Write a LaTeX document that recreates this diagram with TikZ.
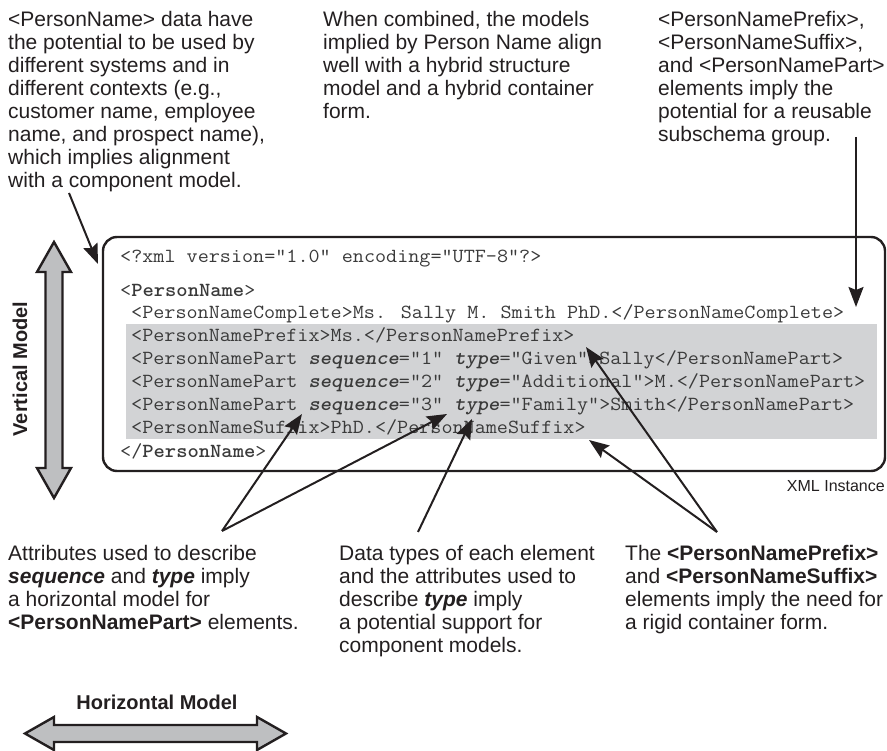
\documentclass[tikz,border=0pt]{standalone}
\usepackage{fontspec}
\setmainfont{Liberation Sans}
\usetikzlibrary{arrows.meta}

\definecolor{ink}{HTML}{231F20}
\definecolor{codeink}{HTML}{3A3A3A}
\definecolor{band}{HTML}{D2D3D5}
\definecolor{blockfill}{HTML}{BEBFC1}

% Multi-line notes are anchored at the baseline of their last line.
% Code lines are stretched slightly so one character is 11pt wide.
\tikzset{
  note/.style={anchor=base west, inner sep=0pt, align=left,
    font=\fontsize{21}{23}\selectfont, text=ink},
  code/.style={anchor=base west, inner sep=0pt, xscale=1.076,
    font=\ttfamily\fontsize{20}{23}\selectfont, text=codeink},
  pointer/.style={line width=2pt, draw=ink,
    -{Stealth[length=20pt,width=15pt,inset=3pt]}},
  blockarrow/.style={draw=ink, line width=2.4pt, fill=blockfill, line join=miter},
  modellabel/.style={inner sep=0pt, font=\bfseries\fontsize{20}{24}\selectfont, text=ink},
}
\newcommand{\attr}[1]{\textbf{\textit{#1}}}

\begin{document}
\begin{tikzpicture}[x=1pt, y=-1pt]
\useasboundingbox (0,0) rectangle (887,751);

% --- explanatory notes above the instance ---
\node[note] (noteComponent) at (8,188) {<PersonName> data have\\
  the potential to be used by\\
  different systems and in\\
  different contexts (e.g.,\\
  customer name, employee\\
  name, and prospect name),\\
  which implies alignment\\
  with a component model.};
\node[note] (noteHybrid) at (323,119) {When combined, the models\\
  implied by Person Name align\\
  well with a hybrid structure\\
  model and a hybrid container\\
  form.};
\node[note] (noteGroup) at (658,142) {<PersonNamePrefix>,\\
  <PersonNameSuffix>,\\
  and <PersonNamePart>\\
  elements imply the\\
  potential for a reusable\\
  subschema group.};

% --- highlighted block of child elements ---
\fill[band] (126,324) rectangle (877,439);

% --- XML instance text ---
\node[code] (decl) at (120,263) {<?xml version="1.0" encoding="UTF-8"?>};
\node[code] (rootOpen) at (120,297) {<\textbf{PersonName}>};
\node[code] (complete) at (131,319) {<PersonNameComplete>Ms. Sally M. Smith PhD.</PersonNameComplete>};
\node[code] (prefix) at (131,342) {<PersonNamePrefix>Ms.</PersonNamePrefix>};
\node[code] (partA) at (131,365) {<PersonNamePart \attr{sequence}="1" \attr{type}="Given">Sally</PersonNamePart>};
\node[code] (partB) at (131,388) {<PersonNamePart \attr{sequence}="2" \attr{type}="Additional">M.</PersonNamePart>};
\node[code] (partC) at (131,411) {<PersonNamePart \attr{sequence}="3" \attr{type}="Family">Smith</PersonNamePart>};
\node[code] (suffix) at (131,434) {<PersonNameSuffix>PhD.</PersonNameSuffix>};
\node[code] (rootClose) at (120,457) {</\textbf{PersonName}>};

% --- instance frame and caption ---
\draw[ink, line width=2.4pt, rounded corners=14pt] (103,237) rectangle (885,471);
\node[anchor=base east, inner sep=0pt, font=\fontsize{16}{19}\selectfont, text=ink]
  (caption) at (885,492) {XML Instance};

% --- explanatory notes below the instance ---
\node[note] (noteHorizontal) at (8,629) {Attributes used to describe\\
  \attr{sequence} and \attr{type} imply\\
  a horizontal model for\\
  \textbf{<PersonNamePart>} elements.};
\node[note] (noteTypes) at (339,652) {Data types of each element\\
  and the attributes used to\\
  describe \attr{type} imply\\
  a potential support for\\
  component models.};
\node[note] (noteRigid) at (625,629) {The \textbf{<PersonNamePrefix>}\\
  and \textbf{<PersonNameSuffix>}\\
  elements imply the need for\\
  a rigid container form.};

% --- pointer end points ---
\coordinate (compStart) at (69,193);
\coordinate (compTip) at (98,264);
\coordinate (groupStart) at (856,137);
\coordinate (groupTip) at (856,307);
\coordinate (horizApex) at (222,531);
\coordinate (seqTip) at (302,414);
\coordinate (typeTipA) at (447,414);
\coordinate (typesApex) at (418,532);
\coordinate (typeTipB) at (472,419);
\coordinate (rigidApex) at (717,532);
\coordinate (suffixTip) at (589,440);
\coordinate (prefixTip) at (586,347);

% --- pointers ---
\draw[pointer] (compStart) -- (compTip);
\draw[pointer] (groupStart) -- (groupTip);
\draw[pointer] (horizApex) -- (seqTip);
\draw[pointer] (horizApex) -- (typeTipA);
\draw[pointer] (typesApex) -- (typeTipB);
\draw[pointer] (rigidApex) -- (suffixTip);
\draw[pointer] (rigidApex) -- (prefixTip);

% --- vertical model double arrow ---
\draw[blockarrow] (54,242) -- (71,272) -- (62.5,272) -- (62.5,468) -- (71,468)
  -- (54,498) -- (37,468) -- (45.5,468) -- (45.5,272) -- (37,272) -- cycle;
\node[modellabel, rotate=90] (verticalLabel) at (20,369) {Vertical Model};

% --- horizontal model double arrow ---
\node[modellabel] (horizontalLabel) at (157,702) {Horizontal Model};
\draw[blockarrow] (25,733.5) -- (54,717) -- (54,725) -- (257,725) -- (257,717)
  -- (286,733.5) -- (257,750) -- (257,742) -- (54,742) -- (54,750) -- cycle;
\end{tikzpicture}
\end{document}
